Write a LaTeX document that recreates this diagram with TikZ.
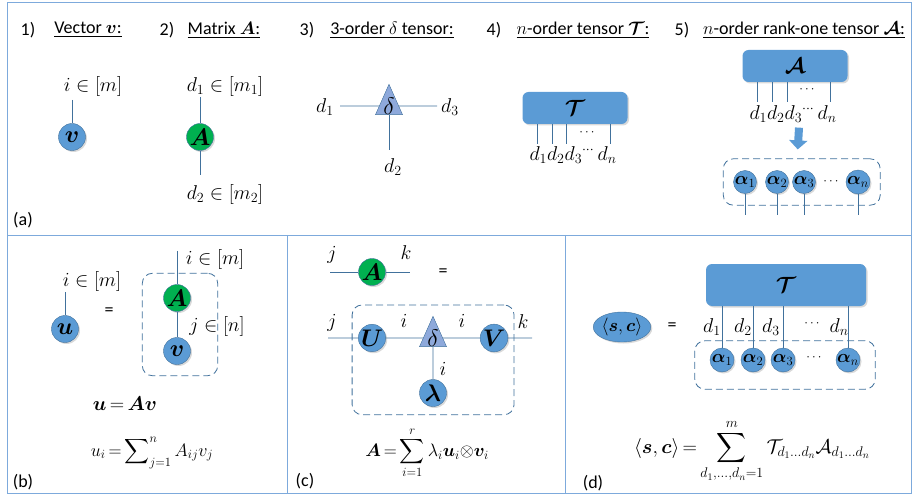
\RequirePackage{fix-cm}
\documentclass[tikz,border=0pt]{standalone}
\usepackage{amsmath}
\usepackage{bm}
\usepackage{fontspec}
\setmainfont{Carlito}
\usetikzlibrary{shapes.geometric, arrows.meta, positioning, fit, shadows}

\definecolor{nodeblue}{RGB}{91,155,213}
\definecolor{edgeblue}{RGB}{65,113,156}
\definecolor{matgreen}{RGB}{0,176,80}
\definecolor{triblue}{RGB}{142,169,219}
\definecolor{frameblue}{RGB}{125,170,220}

\newcommand{\tightmath}{\thickmuskip=3mu\relax\medmuskip=2mu\relax}

\begin{document}
\begin{tikzpicture}[
    x=1pt, y=-1pt,
    every node/.style={font=\fontsize{18}{21}\selectfont},
    heading/.style={inner sep=1pt, font=\fontsize{18}{21}\selectfont},
    lbl/.style={inner sep=1pt, font=\fontsize{20}{23}\selectfont},
    dots/.style={inner sep=0pt, font=\fontsize{13}{15}\selectfont},
    formula/.style={inner sep=1pt, font=\fontsize{#1}{#1}\selectfont},
    vec/.style={circle, draw=edgeblue, fill=nodeblue, minimum size=27pt, inner sep=0pt, font=\fontsize{24}{26}\selectfont, drop shadow={shadow xshift=1.5pt, shadow yshift=-1.5pt, opacity=0.3}},
    mat/.style={vec, fill=matgreen},
    core/.style={isosceles triangle, isosceles triangle stretches, shape border rotate=90, draw=edgeblue, fill=triblue, minimum width=27pt, minimum height=30pt, inner sep=0pt, font=\fontsize{24}{26}\selectfont},
    tens/.style={rectangle, rounded corners=6pt, fill=nodeblue, minimum width=105pt, minimum height=32pt, font=\fontsize{22}{24}\selectfont, drop shadow={shadow xshift=1.5pt, shadow yshift=-1.5pt, opacity=0.3}},
    fitbox/.style={draw=edgeblue, thick, dash pattern=on 7pt off 4pt, rounded corners=10pt, inner sep=0pt},
    leg/.style={draw=edgeblue, semithick},
    blockarrow/.style={draw=nodeblue, line width=8pt, -{Triangle[length=9pt, width=18pt]}},
    panel/.style={draw=frameblue, thick}
]
    \useasboundingbox (0,0) rectangle (913,497);

    % Frame of the four panels
    \draw[panel] (7,2) rectangle (911,493);
    \draw[panel] (7,235) -- (911,235);
    \draw[panel] (287,235) -- (287,493);
    \draw[panel] (565,235) -- (565,493);

    % (a) Headings
    \node[heading] (h1) at (28,30) {1)};
    \node[heading] (t1) at (88,30) {\underline{Vector $\bm{v}$:}};
    \node[heading] (h2) at (167,30) {2)};
    \node[heading] (t2) at (224,30) {\underline{Matrix $\bm{A}$:}};
    \node[heading] (h3) at (307,30) {3)};
    \node[heading] (t3) at (392,30) {\underline{3-order $\delta$ tensor:}};
    \node[heading] (h4) at (494,30) {4)};
    \node[heading] (t4) at (583,30) {\underline{$n$-order tensor $\bm{\mathcal{T}}$:}};
    \node[heading] (h5) at (682,30) {5)};
    \node[heading] (t5) at (804,30) {\underline{$n$-order rank-one tensor $\bm{\mathcal{A}}$:}};

    % (a) Vector
    \node[vec] (v) at (72,137) {$\bm{v}$};
    \coordinate (vi) at (72,100);
    \draw[leg] (vi) -- (v);
    \node[lbl] (vlab) at (93,87) {$i\in[m]$};

    % (a) Matrix
    \node[mat] (A) at (200,137) {$\bm{A}$};
    \coordinate (Aup) at (200,97);
    \coordinate (Adn) at (200,175);
    \draw[leg] (Aup) -- (A);
    \draw[leg] (A) -- (Adn);
    \node[lbl] (Alab1) at (225,87) {$d_1\in[m_1]$};
    \node[lbl] (Alab2) at (225,195) {$d_2\in[m_2]$};

    % (a) Delta tensor
    \node[core] (dl) at (389,106) {$\delta$};
    \coordinate (dl1) at (340,106);
    \coordinate (dl3) at (437,106);
    \coordinate (dl2) at (389,150);
    \draw[leg] (dl1) -- (dl);
    \draw[leg] (dl) -- (dl3);
    \draw[leg] (dl) -- (dl2);
    \node[lbl] (dlab1) at (325,107) {$d_1$};
    \node[lbl] (dlab3) at (450,107) {$d_3$};
    \node[lbl] (dlab2) at (393,167) {$d_2$};

    % (a) n-order tensor
    \node[tens] (T) at (575,108) {$\bm{\mathcal{T}}$};
    \foreach \x [count=\k] in {537,552,566,610} {
        \coordinate (Tl\k) at (\x,144);
        \draw[leg] (T.south -| Tl\k) -- (Tl\k);
    }
    \node[dots] (Tdots) at (588,133) {$\cdots$};
    \node[lbl] (Tidx) at (573,155) {$d_1d_2d_3{}^{\cdots}\,d_n$};

    % (a) rank-one tensor
    \node[tens] (R) at (795,66) {$\bm{\mathcal{A}}$};
    \foreach \x [count=\k] in {757,772,787,830} {
        \coordinate (Rl\k) at (\x,102);
        \draw[leg] (R.south -| Rl\k) -- (Rl\k);
    }
    \node[dots] (Rdots) at (808,90) {$\cdots$};
    \node[lbl] (Ridx) at (793,114) {$d_1d_2d_3{}^{\cdots}\,d_n$};

    \foreach \x/\k in {745/1,777/2,804/3,858/n} {
        \node[vec, minimum size=23pt, font=\fontsize{18}{20}\selectfont] (a\k) at (\x,182) {$\bm{\alpha}_{\k}$};
        \coordinate (af\k) at (\x,215);
    }
    \node[dots] (adots) at (832,182) {$\cdots$};
    \node[fitbox, fit=(a1)(an), inner xsep=10pt, inner ysep=11pt] (abox) {};
    \foreach \k in {1,2,3,n} \draw[leg] (a\k) -- (af\k);
    \draw[blockarrow] ([xshift=6pt,yshift=-4pt]Ridx.south) -- ([xshift=-4pt,yshift=9pt]abox.north);

    \node (pa) at (23,220) {(a)};

    % (b) Matrix-vector product
    \node[vec] (u) at (65,329) {$\bm{u}$};
    \coordinate (ui) at (65,292);
    \draw[leg] (ui) -- (u);
    \node[lbl] (ulab) at (92,282) {$i\in[m]$};
    \node (eqb) at (109,312) {=};

    \node[mat] (A2) at (177,298) {$\bm{A}$};
    \node[vec] (v2) at (177,351) {$\bm{v}$};
    \coordinate (A2i) at (177,251);
    \draw[leg] (A2i) -- (A2);
    \draw[leg] (A2) -- (v2);
    \node[fitbox, fit=(A2)(v2), inner xsep=24pt, inner ysep=11pt, xshift=3pt] (bbox) {};
    \node[lbl] (A2lab) at (215,260) {$i\in[m]$};
    \node[lbl] (v2lab) at (217,326) {$j\in[n]$};

    \node[formula=20] (fb1) at (125,404) {$\tightmath\bm{u}=\bm{A}\bm{v}$};
    \node[formula=18] (fb2) at (152,453) {$\tightmath u_i=\displaystyle\sum\nolimits_{j=1}^{n}A_{ij}v_j$};
    \node (pb) at (23,482) {(b)};

    % (c) Decomposition of a matrix
    \node[mat] (A3) at (372,272) {$\bm{A}$};
    \coordinate (cj) at (330,272);
    \coordinate (ck) at (410,272);
    \draw[leg] (cj) -- (A3);
    \draw[leg] (A3) -- (ck);
    \node[lbl] (A3j) at (332,255) {$j$};
    \node[lbl] (A3k) at (406,253) {$k$};
    \node (eqc) at (443,273) {=};

    \node[vec] (U) at (372,338) {$\bm{U}$};
    \node[core] (dlc) at (433,338) {$\delta$};
    \node[vec] (V) at (494,338) {$\bm{V}$};
    \node[vec] (lam) at (433,393) {$\bm{\lambda}$};
    \coordinate (cj2) at (328,338);
    \coordinate (ck2) at (532,338);
    \draw[leg] (cj2) -- (U) -- (dlc) -- (V) -- (ck2);
    \draw[leg] (dlc) -- (lam);
    \node[fitbox, fit=(U)(V)(lam), inner xsep=6pt, inner ysep=13.5pt, yshift=5.5pt] (cbox) {};
    \node[lbl] (cjl) at (332,323) {$j$};
    \node[lbl] (cil) at (404,321) {$i$};
    \node[lbl] (cir) at (462,321) {$i$};
    \node[lbl] (ckl) at (523,322) {$k$};
    \node[lbl] (cid) at (443,369) {$i$};

    \node[formula=18] (fc) at (427,453) {$\tightmath\bm{A}=\displaystyle\sum_{i=1}^{r}\lambda_i\bm{u}_i{\otimes}\bm{v}_i$};
    \node (pc) at (305,481) {(c)};

    % (d) Inner product
    \node[vec, ellipse, minimum width=49pt, minimum height=30pt, font=\fontsize{18}{20}\selectfont] (sc) at (622,327) {$\langle\bm{s},\bm{c}\rangle$};
    \node (eqd) at (672,327) {=};
    \node[tens, minimum width=160pt, minimum height=42pt] (T2) at (786,285) {$\bm{\mathcal{T}}$};
    \foreach \x/\k in {722/1,753/2,783/3,848/n}
        \node[vec, minimum size=24pt, font=\fontsize{18}{20}\selectfont] (b\k) at (\x,360) {$\bm{\alpha}_{\k}$};
    \node[dots] (bdots) at (815,358) {$\cdots$};
    \node[fitbox, fit=(b1)(bn), inner xsep=15pt, inner ysep=12pt, yshift=-5pt] (dbox) {};
    \foreach \k in {1,2,3,n} \draw[leg] (T2.south -| b\k) -- (b\k);
    \node[lbl] (dd1) at (712,327) {$d_1$};
    \node[lbl] (dd2) at (743,327) {$d_2$};
    \node[lbl] (dd3) at (771,327) {$d_3$};
    \node[dots] (dddots) at (813,324) {$\cdots$};
    \node[lbl] (ddn) at (839,327) {$d_n$};

    \node[formula=20] (fd) at (752,451) {$\tightmath\langle\bm{s},\bm{c}\rangle=\displaystyle\sum_{d_1,\dots,d_n=1}^{m}\mathcal{T}_{d_1\dots d_n}\mathcal{A}_{d_1\dots d_n}$};
    \node (pd) at (593,483) {(d)};

\end{tikzpicture}
\end{document}
